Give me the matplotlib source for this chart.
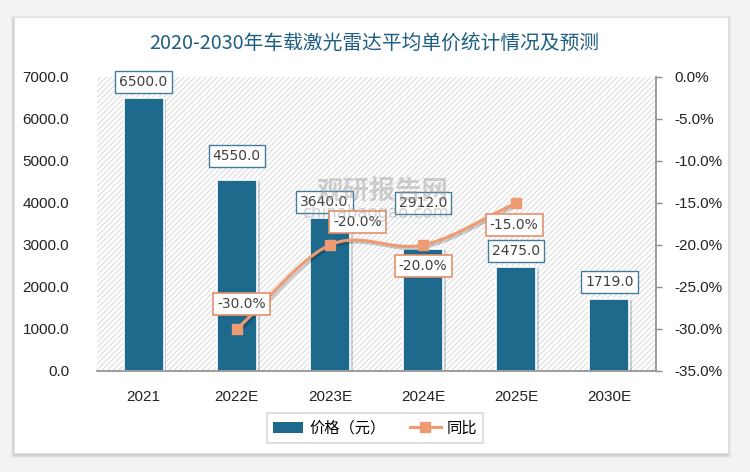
import numpy as np
import matplotlib.pyplot as plt
from matplotlib.patches import Rectangle
from matplotlib.lines import Line2D
from matplotlib.patches import Patch
import matplotlib.patheffects as pe

plt.rcParams['font.family'] = ['Noto Sans CJK SC', 'DejaVu Sans']
plt.rcParams['hatch.linewidth'] = 0.6

categories = ['2021', '2022E', '2023E', '2024E', '2025E', '2030E']
price = [6500.0, 4550.0, 3640.0, 2912.0, 2475.0, 1719.0]
yoy_idx = [1, 2, 3, 4]
yoy = [-30.0, -20.0, -20.0, -15.0]

bar_color = '#1D6A8C'
line_color = '#EE9A72'

fig = plt.figure(figsize=(7.5, 4.72), dpi=100)
fig.patch.set_facecolor('#F3F3F3')

# card with soft shadow
W, H = 750, 472
for i, a in enumerate([0.04, 0.05, 0.06]):
    d = 3 - i
    fig.patches.append(Rectangle(((14 - d) / W, 1 - (453 + d + 2) / H), (714 + 2 * d) / W, (436 + 2 * d) / H,
                                 transform=fig.transFigure, facecolor='black', alpha=a, lw=0, zorder=-10))
fig.patches.append(Rectangle((14 / W, 1 - 453 / H), 714 / W, 436 / H, transform=fig.transFigure,
                             facecolor='white', edgecolor='#E0E0E0', lw=0.8, zorder=-9))

ax = fig.add_axes([97 / W, 1 - 371 / H, 559 / W, 294 / H])
ax.set_facecolor('none')
ax.add_patch(Rectangle((0, 0), 1, 1, transform=ax.transAxes, facecolor='white', edgecolor='#D4D4D4',
                       hatch='//////', lw=0, zorder=0))

x = np.arange(len(categories))
ax.bar(x, price, width=0.43, color=bar_color, edgecolor='white', linewidth=1.2, zorder=2,
       path_effects=[pe.SimplePatchShadow(offset=(2, -1), alpha=0.18), pe.Normal()])
ax.set_xlim(-0.5, 5.5)
ax.set_ylim(0, 7000)
ax.set_yticks(np.arange(0, 7001, 1000))
ax.set_yticklabels(['%.1f' % v for v in np.arange(0, 7001, 1000)], family='Liberation Sans', fontsize=11, color='#222222')
ax.set_xticks(x)
ax.set_xticklabels(categories, family='Liberation Sans', fontsize=11, color='#222222')
ax.tick_params(axis='y', length=0, pad=20)
ax.tick_params(axis='x', length=0, pad=14)
for s in ['top', 'right', 'left']:
    ax.spines[s].set_visible(False)
ax.spines['bottom'].set_color('#8C8C8C')
ax.spines['bottom'].set_linewidth(1.2)

bar_offsets = [(0, 11.5), (0, 17), (-4, 11.5), (0, 33), (0, 11.5), (0, 12)]
for xi, v, off in zip(x, price, bar_offsets):
    ax.annotate('%.1f' % v, (xi, v), xytext=off, textcoords='offset points', ha='center', va='center',
                fontsize=10, color='#404040', family='DejaVu Sans', zorder=6,
                bbox=dict(boxstyle='square,pad=0.3', fc='white', ec='#3F7D9E', lw=1))

ax2 = ax.twinx()
ax2.set_ylim(-35, 0)
ax2.set_yticks(np.arange(-35, 1, 5))
ax2.set_yticklabels(['%.1f%%' % v for v in np.arange(-35, 1, 5)], family='Liberation Sans', fontsize=11, color='#222222')
ax2.tick_params(axis='y', length=4, width=1, color='#8C8C8C', pad=9)
for s in ['top', 'left', 'bottom']:
    ax2.spines[s].set_visible(False)
ax2.spines['right'].set_color('#8C8C8C')
ax2.spines['right'].set_linewidth(1.2)


def catmull(px, py, n=30):
    px = np.asarray(px, float)
    py = np.asarray(py, float)
    P = np.column_stack([px, py])
    P = np.vstack([P[0] - (P[1] - P[0]), P, P[-1] + (P[-1] - P[-2])])
    out = []
    for i in range(1, len(P) - 2):
        p0, p1, p2, p3 = P[i - 1], P[i], P[i + 1], P[i + 2]
        t = np.linspace(0, 1, n)[:, None]
        seg = 0.5 * ((2 * p1) + (-p0 + p2) * t + (2 * p0 - 5 * p1 + 4 * p2 - p3) * t ** 2 +
                     (-p0 + 3 * p1 - 3 * p2 + p3) * t ** 3)
        out.append(seg)
    out = np.vstack(out)
    return out[:, 0], out[:, 1]


sx, sy = catmull(yoy_idx, yoy)
ax2.plot(sx, sy, color=line_color, lw=2.2, zorder=3,
         path_effects=[pe.SimpleLineShadow(offset=(1.5, -1.5), alpha=0.2), pe.Normal()])
ax2.plot(yoy_idx, yoy, ls='none', marker='s', ms=7, color=line_color, zorder=4)

line_offsets = [(3.6, 18), (20, 16.5), (0, -15), (-1.5, -16)]
for xi, v, off in zip(yoy_idx, yoy, line_offsets):
    ax2.annotate('%.1f%%' % v, (xi, v), xytext=off, textcoords='offset points', ha='center', va='center',
                 fontsize=10, color='#404040', family='DejaVu Sans', zorder=7,
                 bbox=dict(boxstyle='square,pad=0.3', fc='white', ec='#E8906A', lw=1.2))

# watermark
fig.text(382 / W, 1 - 192 / H, '观研报告网', fontsize=19, weight='bold', color='#9A9A9A', alpha=0.45,
         ha='center', va='center', zorder=10)
fig.text(376 / W, 1 - 213 / H, 'chinabaogao.com', fontsize=12, color='#9A9A9A', alpha=0.45,
         ha='center', va='center', zorder=10, family='DejaVu Sans')

fig.text(374 / W, 1 - 44 / H, '2020-2030年车载激光雷达平均单价统计情况及预测', fontsize=14.2,
         color='#1F5F82', ha='center', va='center')

handles = [Patch(facecolor=bar_color, edgecolor='none'),
           Line2D([0], [0], color=line_color, lw=2.2, marker='s', ms=7)]
leg = fig.legend(handles, ['价格（元）', '同比'], loc='center', bbox_to_anchor=(375 / W, 1 - 428 / H),
                 ncol=2, frameon=True, fontsize=11, handlelength=2.0, handletextpad=0.4,
                 columnspacing=1.6, borderpad=0.4, fancybox=False, borderaxespad=0)
leg.get_frame().set_edgecolor('#D0D0D0')
leg.get_frame().set_linewidth(1.2)

fig.savefig('out.png', dpi=100, facecolor=fig.get_facecolor())
